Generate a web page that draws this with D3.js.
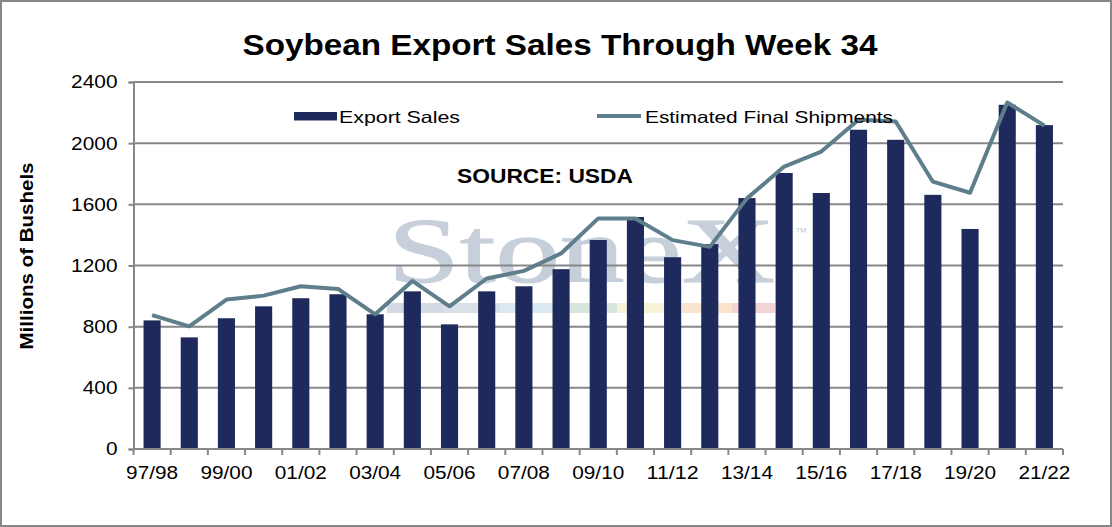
<!DOCTYPE html>
<html>
<head>
<meta charset="utf-8">
<script src="https://cdn.jsdelivr.net/npm/d3@7"></script>
<style>
  html, body { margin: 0; padding: 0; background: #fff; }
  svg { display: block; font-family: "Liberation Sans", Arial, sans-serif; }
</style>
</head>
<body>
<div id="chart"></div>
<script>
// seasons on the x axis
const seasons = ["97/98", "98/99", "99/00", "00/01", "01/02", "02/03", "03/04", "04/05",
    "05/06", "06/07", "07/08", "08/09", "09/10", "10/11", "11/12", "12/13", "13/14",
    "14/15", "15/16", "16/17", "17/18", "18/19", "19/20", "20/21", "21/22"];

// export sales through week 34 (million bushels)
const exportSales = [841, 730, 855, 933, 986, 1012, 881, 1031, 815, 1031, 1064, 1176,
    1367, 1517, 1254, 1340, 1641, 1805, 1674, 2088, 2022, 1662, 1439, 2251, 2118];

// estimated final shipments (million bushels)
const finalShipments = [875, 802, 977, 1003, 1064, 1047, 881, 1099, 933, 1115, 1165, 1279,
    1508, 1508, 1366, 1322, 1639, 1847, 1945, 2153, 2142, 1748, 1676, 2266, 2115];

const yTicks = [0, 400, 800, 1200, 1600, 2000, 2400];
const xTickLabels = ["97/98", "99/00", "01/02", "03/04", "05/06", "07/08", "09/10",
    "11/12", "13/14", "15/16", "17/18", "19/20", "21/22"];

const width = 1112, height = 527;
const plot = {left: 133.5, right: 1063, top: 82, bottom: 449};

const barColor = "#1f2a5c";
const lineColor = "#5f7e8b";
const gridColor = "#878787";

const svg = d3.select("#chart").append("svg")
    .attr("width", width)
    .attr("height", height);

// outer frame
svg.append("rect")
    .attr("x", 1).attr("y", 1)
    .attr("width", width - 2).attr("height", height - 2)
    .attr("fill", "#fff")
    .attr("stroke", "#868686")
    .attr("stroke-width", 2);

// scales
const x = d3.scaleBand()
    .domain(seasons)
    .range([plot.left, plot.right])
    .paddingInner(0.54)
    .paddingOuter(0.27);

const y = d3.scaleLinear()
    .domain([0, 2400])
    .range([plot.bottom, plot.top]);

// --- watermark (behind everything) ---
const wm = svg.append("g").attr("class", "watermark");
wm.append("text")
    .attr("x", 388).attr("y", 282)
    .attr("font-family", "'Liberation Serif', 'DejaVu Serif', serif")
    .attr("font-size", 94)
    .attr("fill", "#c6cfda")
    .attr("stroke", "#c6cfda")
    .attr("stroke-width", 1.2)
    .attr("textLength", 387)
    .attr("lengthAdjust", "spacingAndGlyphs")
    .text("StoneX");
wm.append("text")
    .attr("x", 795).attr("y", 236)
    .attr("font-size", 12)
    .attr("fill", "#c6cfda")
    .text("™");
const stripe = [
    {x0: 387, x1: 443, c: "#d4dae3"},
    {x0: 443, x1: 500, c: "#dae0e8"},
    {x0: 500, x1: 570, c: "#dce9f2"},
    {x0: 570, x1: 617, c: "#d6e6dc"},
    {x0: 617, x1: 682, c: "#f6f3d8"},
    {x0: 682, x1: 732, c: "#f9e4cd"},
    {x0: 732, x1: 775, c: "#f3d4d5"}
];
wm.selectAll("rect")
    .data(stripe)
    .join("rect")
    .attr("x", d => d.x0).attr("width", d => d.x1 - d.x0)
    .attr("y", 303).attr("height", 10)
    .attr("fill", d => d.c);

// gridlines
svg.append("g")
    .selectAll("line")
    .data(yTicks.filter(v => v > 0))
    .join("line")
    .attr("x1", plot.left).attr("x2", plot.right)
    .attr("y1", d => y(d)).attr("y2", d => y(d))
    .attr("stroke", gridColor)
    .attr("stroke-width", 2);

// bars
svg.append("g")
    .selectAll("rect")
    .data(seasons.map((s, i) => ({s, v: exportSales[i]})))
    .join("rect")
    .attr("x", d => x(d.s))
    .attr("width", x.bandwidth())
    .attr("y", d => y(d.v))
    .attr("height", d => y(0) - y(d.v))
    .attr("fill", barColor);

// y axis
const yAxis = svg.append("g")
    .attr("transform", `translate(${plot.left},0)`)
    .call(d3.axisLeft(y).tickValues(yTicks).tickFormat(d3.format("d")).tickSize(5).tickPadding(11));
yAxis.select(".domain").attr("stroke", gridColor).attr("stroke-width", 2);
yAxis.selectAll(".tick line").attr("stroke", gridColor).attr("stroke-width", 2);
yAxis.selectAll(".tick text")
    .attr("font-size", 18.5)
    .attr("fill", "#000")
    .attr("font-family", "'Liberation Sans', Arial, sans-serif")
    .attr("textLength", d => String(d).length * 11.6)
    .attr("lengthAdjust", "spacingAndGlyphs");

// x axis: ticks on band boundaries, labels on every other season
const step = x.step();
const boundaries = d3.range(seasons.length + 1).map(i => plot.left + i * step);
const xAxis = svg.append("g");
xAxis.append("line")
    .attr("x1", plot.left).attr("x2", plot.right)
    .attr("y1", y(0)).attr("y2", y(0))
    .attr("stroke", gridColor).attr("stroke-width", 2);
xAxis.selectAll("line.tick")
    .data(boundaries)
    .join("line")
    .attr("class", "tick")
    .attr("x1", d => d).attr("x2", d => d)
    .attr("y1", y(0)).attr("y2", y(0) + 6)
    .attr("stroke", gridColor).attr("stroke-width", 2);
xAxis.selectAll("text")
    .data(xTickLabels)
    .join("text")
    .attr("x", d => x(d) + x.bandwidth() / 2)
    .attr("y", 479)
    .attr("text-anchor", "middle")
    .attr("font-size", 18.5)
    .attr("textLength", 52)
    .attr("lengthAdjust", "spacingAndGlyphs")
    .text(d => d);

// shipments line
const line = d3.line()
    .x((d, i) => x(seasons[i]) + x.bandwidth() / 2)
    .y(d => y(d));
svg.append("path")
    .datum(finalShipments)
    .attr("d", line)
    .attr("fill", "none")
    .attr("stroke", lineColor)
    .attr("stroke-width", 4)
    .attr("stroke-linejoin", "round");

// title
svg.append("text")
    .attr("x", 560).attr("y", 55)
    .attr("text-anchor", "middle")
    .attr("font-size", 30)
    .attr("font-weight", "bold")
    .attr("textLength", 635)
    .attr("lengthAdjust", "spacingAndGlyphs")
    .text("Soybean Export Sales Through Week 34");

// y axis label
svg.append("text")
    .attr("transform", "translate(33,256) rotate(-90)")
    .attr("text-anchor", "middle")
    .attr("font-size", 18)
    .attr("font-weight", "bold")
    .attr("textLength", 187)
    .attr("lengthAdjust", "spacingAndGlyphs")
    .text("Millions of Bushels");

// source note
svg.append("text")
    .attr("x", 545).attr("y", 183)
    .attr("text-anchor", "middle")
    .attr("font-size", 21)
    .attr("font-weight", "bold")
    .attr("textLength", 176)
    .attr("lengthAdjust", "spacingAndGlyphs")
    .text("SOURCE: USDA");

// legend
const legend = svg.append("g");
legend.append("rect")
    .attr("x", 294).attr("y", 112)
    .attr("width", 43).attr("height", 8.5)
    .attr("fill", barColor);
legend.append("text")
    .attr("x", 339).attr("y", 123)
    .attr("font-size", 16.5)
    .attr("textLength", 121)
    .attr("lengthAdjust", "spacingAndGlyphs")
    .text("Export Sales");
legend.append("line")
    .attr("x1", 597).attr("x2", 641)
    .attr("y1", 116).attr("y2", 116)
    .attr("stroke", lineColor)
    .attr("stroke-width", 4);
legend.append("text")
    .attr("x", 645).attr("y", 123)
    .attr("font-size", 16.5)
    .attr("textLength", 248)
    .attr("lengthAdjust", "spacingAndGlyphs")
    .text("Estimated Final Shipments");
</script>
</body>
</html>
